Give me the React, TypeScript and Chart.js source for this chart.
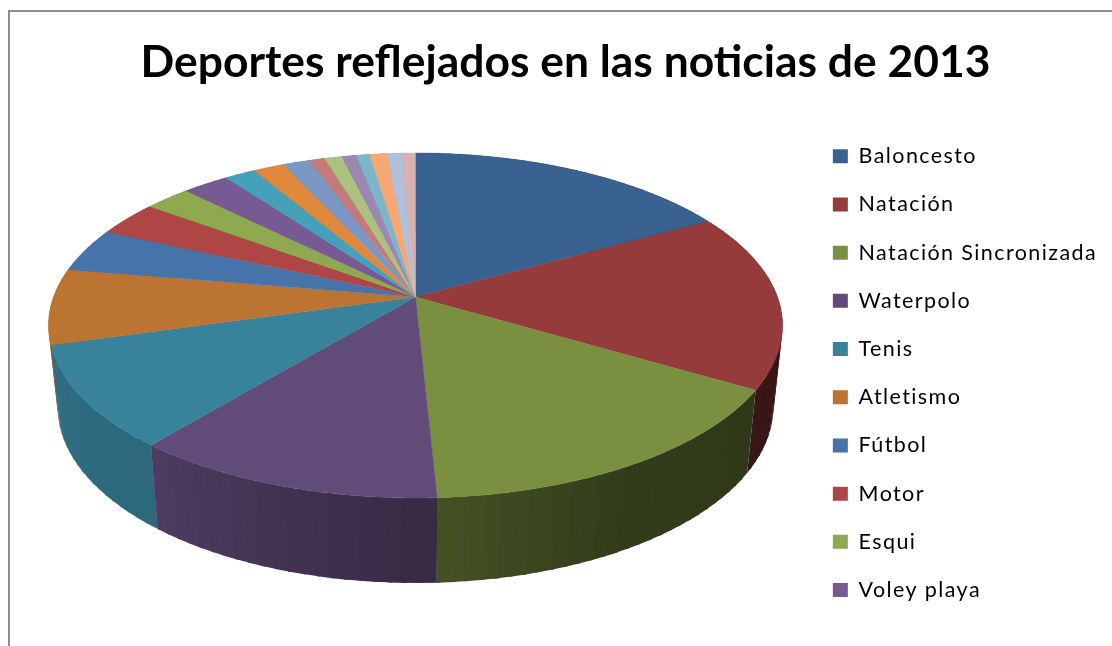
import React, { useEffect, useRef } from "react";
import { Chart, registerables } from "chart.js";

Chart.register(...registerables);

const TITLE = "Deportes reflejados en las noticias de 2013";
const categories = [
  "Baloncesto", "Natación", "Natación Sincronizada", "Waterpolo", "Tenis",
  "Atletismo", "Fútbol", "Motor", "Esqui", "Voley playa",
  "11", "12", "13", "14", "15", "16", "17", "18", "19", "20",
];
const shares = [
  16.9, 16.6, 15.7, 11.8, 9.6, 7.1, 4.1, 3.3, 2.4, 2.4,
  1.6, 1.6, 1.4, 0.8, 0.9, 0.75, 0.7, 0.9, 0.75, 0.7,
];
const colors = [
  "#3A6291", "#953B3B", "#7A9040", "#614B79", "#38829B",
  "#BC7432", "#4673AA", "#AD4644", "#8EA94F", "#775A94",
  "#45A0B9", "#E0883C", "#7B97C4", "#C47A78", "#ABC27F",
  "#9B87B0", "#7CB6CD", "#F5A873", "#B0C0DA", "#D8B0B0",
];
const LEGEND_ITEMS = 10;

// projection of the flat pie onto the tilted disc
const CX = 415.5, CY = 297, RX = 362, RY = 167.8, PERSP = 0.165;
const BOTTOM_CY = 378, BOTTOM_SX = 0.975, BOTTOM_SY = 1.02;
const TOP_STEP = Math.PI / 360, WALL_STEP = Math.PI / 90;
// wall shade by clockwise angle from 12 o'clock
const shadeStops: [number, number][] = [[0, 0.38], [115, 0.38], [150, 0.41], [177, 0.56], [220, 0.8], [254, 0.85], [360, 0.85]];

function shadeAt(deg: number) {
  for (let i = 1; i < shadeStops.length; i++) {
    const [a0, s0] = shadeStops[i - 1];
    const [a1, s1] = shadeStops[i];
    if (deg <= a1) return s0 + ((s1 - s0) * (deg - a0)) / (a1 - a0);
  }
  return 0.85;
}
function darken(hex: string, f: number) {
  const n = parseInt(hex.slice(1), 16);
  const c = [(n >> 16) & 255, (n >> 8) & 255, n & 255].map((v) => Math.round(v * f));
  return `rgb(${c[0]},${c[1]},${c[2]})`;
}
function topPoint(a: number) {
  const u = Math.cos(a), v = Math.sin(a), w = 1 - PERSP * v;
  return [CX + (RX * u) / w, CY + (RY * v) / w];
}
function bottomPoint(a: number) {
  const u = Math.cos(a), v = Math.sin(a), w = 1 - PERSP * v;
  return [CX + (BOTTOM_SX * RX * u) / w, BOTTOM_CY + (BOTTOM_SY * RY * v) / w];
}

const tiltedPie = {
  id: "tiltedPie",
  beforeLayout(chart: any) {
    // wider tracking for the legend, measured and drawn; the title stays plain
    chart.ctx.letterSpacing = "1.4px";
    const title = chart.titleBlock;
    if (title && !title.__plain) {
      title.__plain = true;
      const draw = title.draw;
      title.draw = function () {
        chart.ctx.letterSpacing = "0px";
        draw.call(this);
        chart.ctx.letterSpacing = "1.4px";
      };
    }
  },
  beforeDatasetsDraw(chart: any) {
    const { ctx } = chart;
    const arcs = chart.getDatasetMeta(0).data;
    const fills = chart.data.datasets[0].backgroundColor;
    ctx.save();
    // walls, back to front
    const strips: { a0: number; a1: number; color: string; v: number }[] = [];
    arcs.forEach((arc: any, i: number) => {
      const { startAngle, endAngle } = arc;
      for (let a = startAngle; a < endAngle; a += WALL_STEP) {
        const a1 = Math.min(a + WALL_STEP * 1.3, endAngle);
        const deg = (((a + a1) / 2 + Math.PI / 2) * 180) / Math.PI;
        strips.push({ a0: a, a1, color: darken(fills[i], shadeAt(deg)), v: Math.sin((a + a1) / 2) });
      }
    });
    strips.sort((p, q) => p.v - q.v);
    strips.forEach(({ a0, a1, color }) => {
      const [x0, y0] = topPoint(a0), [x1, y1] = topPoint(a1);
      const [x2, y2] = bottomPoint(a1), [x3, y3] = bottomPoint(a0);
      ctx.beginPath();
      ctx.moveTo(x0, y0); ctx.lineTo(x1, y1); ctx.lineTo(x2, y2); ctx.lineTo(x3, y3);
      ctx.closePath();
      ctx.fillStyle = color;
      ctx.fill();
    });
    // top face
    arcs.forEach((arc: any, i: number) => {
      ctx.beginPath();
      ctx.moveTo(CX, CY);
      for (let a = arc.startAngle; a < arc.endAngle; a += TOP_STEP) {
        const [x, y] = topPoint(a);
        ctx.lineTo(x, y);
      }
      const [xe, ye] = topPoint(arc.endAngle);
      ctx.lineTo(xe, ye);
      ctx.closePath();
      ctx.fillStyle = fills[i]; ctx.strokeStyle = fills[i]; ctx.lineWidth = 0.4;
      ctx.fill(); ctx.stroke();
    });
    ctx.restore();
    return false;
  },
};

export default function App() {
  const ref = useRef<HTMLCanvasElement>(null);
  useEffect(() => {
    const chart = new Chart(ref.current!, {
      type: "pie",
      data: {
        labels: categories,
        datasets: [{ data: shares, backgroundColor: colors, borderWidth: 0 }],
      },
      options: {
        responsive: false,
        animation: false,
        layout: { padding: { left: 24, right: 5, top: 0, bottom: 0 } },
        plugins: {
          tooltip: { enabled: false },
          title: {
            display: true,
            text: TITLE,
            color: "#000000",
            font: { family: "Lato", size: 44.4, weight: "bold" },
            padding: { top: 36, bottom: 29.5 },
          },
          legend: {
            position: "right",
            align: "start",
            fullSize: false,
            maxWidth: 307,
            labels: {
              color: "#000000",
              font: { family: "Lato", size: 21.5 },
              boxWidth: 15,
              boxHeight: 14,
              padding: 26.7,
              filter: (item: any) => item.index < LEGEND_ITEMS,
            },
          },
        },
      },
      plugins: [tiltedPie],
    } as any);
    return () => chart.destroy();
  }, []);
  return (
    <div style={{ position: "fixed", left: 0, top: 0, width: 1112, height: 646, background: "#fff", overflow: "hidden" }}>
      <canvas ref={ref} width={1112} height={646} style={{ position: "absolute", left: 0, top: 0 }} />
      <div style={{ position: "absolute", left: 8, top: 10, width: 1200, height: 700, borderLeft: "2px solid #8c8c8c", borderTop: "2px solid #8c8c8c" }} />
    </div>
  );
}
